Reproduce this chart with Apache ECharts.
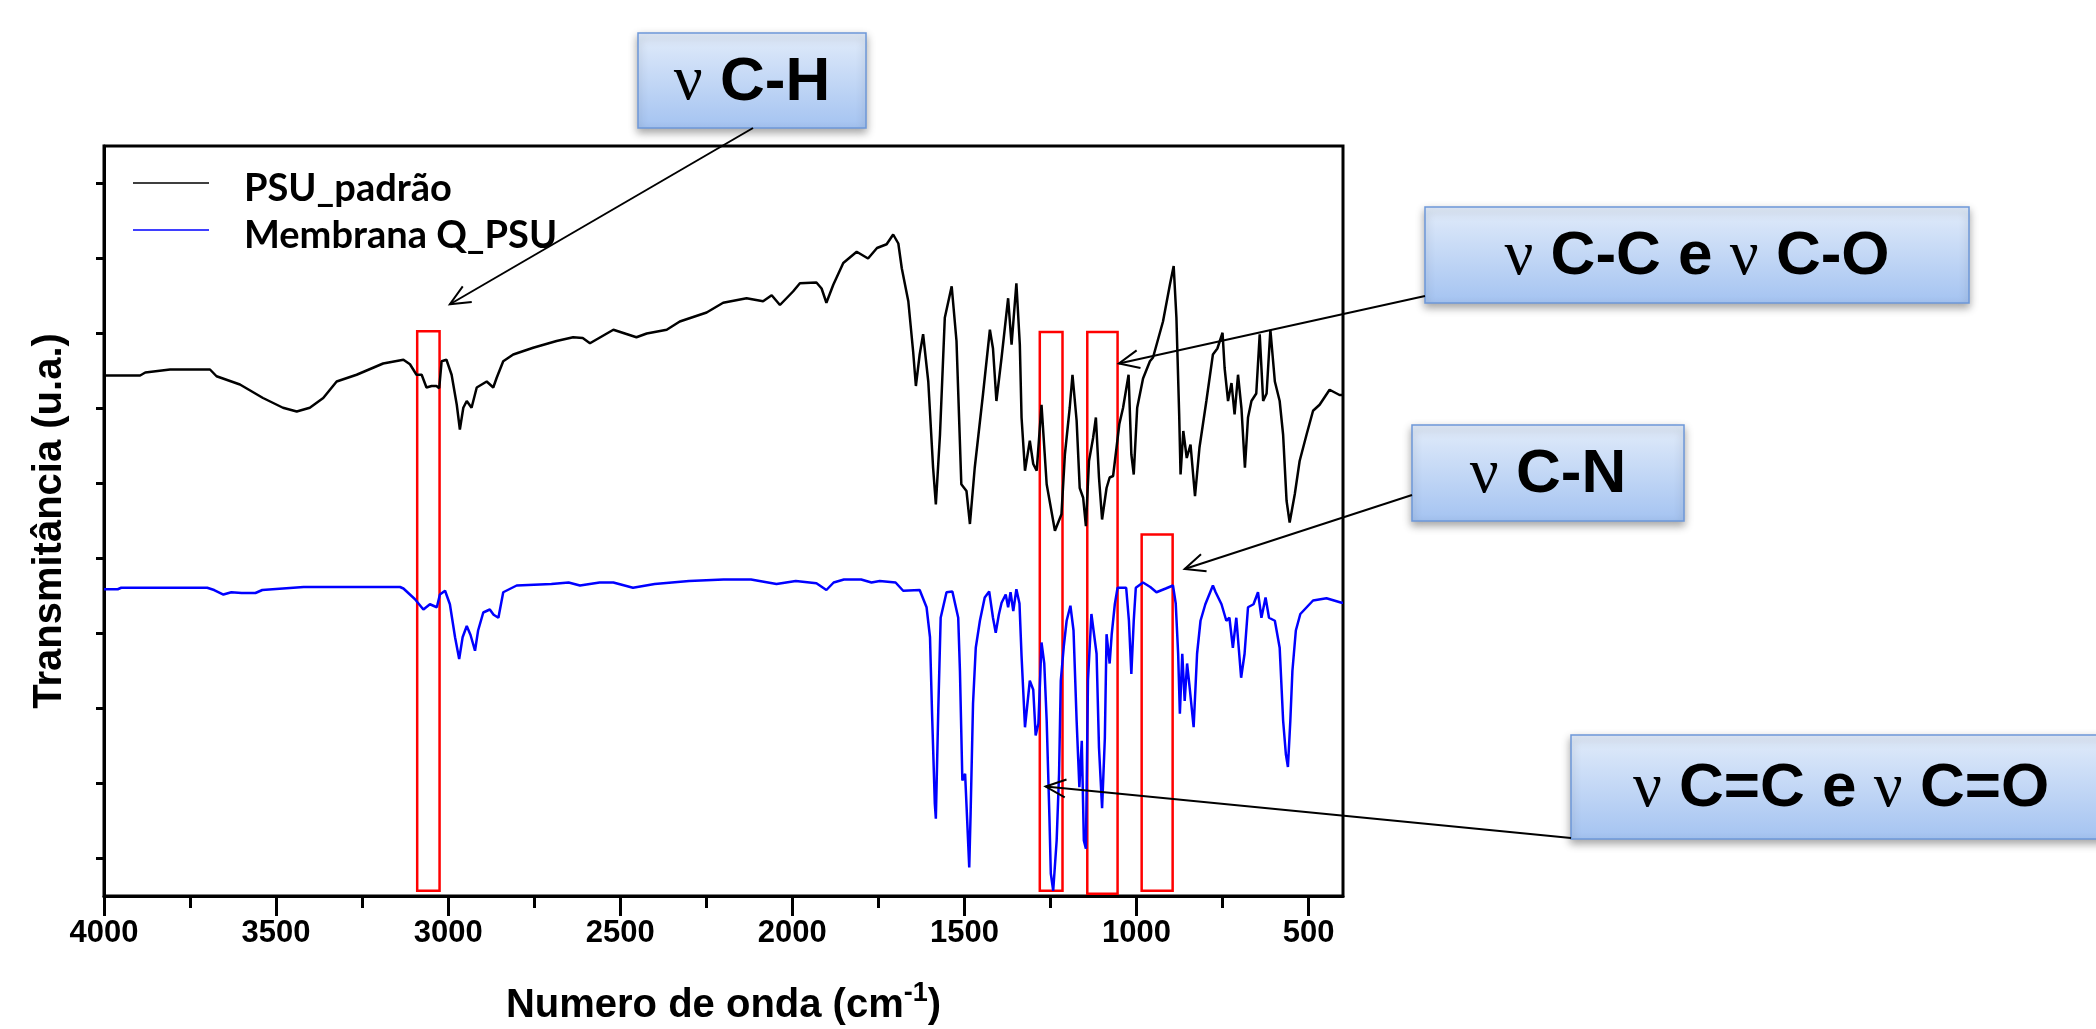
<!DOCTYPE html>
<html><head><meta charset="utf-8">
<script src="https://cdn.jsdelivr.net/npm/echarts@6/dist/echarts.min.js"></script>
<style>html,body{margin:0;padding:0;background:#fff}#c{width:2096px;height:1029px}</style>
</head><body><div id="c"></div>
<script>
// ---- data ----
const seriesNames = ['PSU_padrão', 'Membrana Q_PSU'];
const wnBlack = [4000,3895,3880,3808,3692,3673,3605,3538,3480,3440,3402,3363,3324,3266,3189,3130,3111,3092,3077,3063,3048,3034,3026,3019,3005,2990,2975,2966,2956,2946,2932,2917,2888,2869,2859,2840,2811,2753,2685,2637,2609,2588,2520,2453,2423,2365,2327,2249,2201,2133,2085,2060,2036,1998,1978,1930,1915,1901,1881,1852,1813,1780,1754,1726,1707,1692,1682,1663,1649,1641,1630,1620,1605,1591,1583,1571,1557,1537,1523,1509,1494,1484,1470,1446,1426,1417,1407,1392,1373,1363,1349,1339,1334,1324,1310,1300,1290,1276,1261,1237,1218,1208,1194,1186,1174,1165,1155,1147,1138,1126,1118,1109,1100,1087,1078,1068,1058,1050,1039,1023,1015,1008,998,981,961,952,923,903,892,884,876,872,864,854,843,830,817,797,778,765,750,744,734,724,715,705,695,685,676,666,652,642,632,622,611,598,584,574,564,555,540,526,506,487,468,439,410,400];
const tBlack = [6.44,6.44,6.48,6.52,6.52,6.43,6.32,6.14,6.01,5.96,6.01,6.14,6.36,6.45,6.60,6.65,6.59,6.45,6.45,6.28,6.30,6.30,6.27,6.63,6.65,6.45,6.05,5.72,6.01,6.10,6.01,6.28,6.36,6.28,6.41,6.63,6.72,6.81,6.90,6.95,6.94,6.87,7.05,6.95,7.00,7.05,7.16,7.28,7.41,7.47,7.43,7.51,7.38,7.56,7.67,7.68,7.60,7.41,7.65,7.94,8.09,8.00,8.14,8.19,8.32,8.20,7.87,7.43,6.76,6.30,6.72,6.99,6.36,5.21,4.72,5.65,7.21,7.63,6.90,4.99,4.90,4.46,5.21,6.19,7.05,6.80,6.10,6.68,7.47,6.85,7.67,6.85,5.88,5.17,5.57,5.26,5.17,6.05,4.99,4.37,4.59,5.39,6.01,6.45,5.84,4.94,4.81,4.43,5.30,5.61,5.88,5.08,4.52,4.94,5.08,5.10,5.48,5.79,6.01,6.45,5.39,5.12,6.01,6.40,6.63,6.68,7.16,7.65,7.90,7.21,5.92,5.12,5.70,5.34,5.52,4.83,5.48,6.10,6.72,6.80,7.01,6.54,6.10,6.34,5.92,6.45,6.00,5.21,5.88,6.10,6.20,6.99,6.10,6.20,7.05,6.36,6.10,5.65,4.77,4.48,4.86,5.30,5.65,5.97,6.05,6.25,6.18,6.18];
const wnBlue = [4000,3960,3950,3700,3680,3653,3630,3600,3560,3540,3480,3420,3140,3130,3097,3072,3053,3033,3024,3009,2995,2980,2968,2958,2946,2935,2922,2913,2898,2879,2868,2854,2840,2801,2700,2650,2617,2560,2520,2463,2400,2300,2200,2120,2046,1990,1930,1901,1880,1850,1800,1770,1746,1700,1678,1630,1610,1600,1594,1586,1583,1576,1569,1552,1535,1518,1513,1506,1498,1492,1486,1482,1475,1467,1455,1441,1428,1417,1409,1400,1392,1380,1373,1366,1358,1349,1340,1334,1324,1320,1310,1300,1293,1285,1276,1268,1261,1253,1249,1242,1232,1225,1220,1211,1203,1192,1183,1174,1166,1159,1153,1147,1141,1131,1126,1116,1109,1100,1098,1092,1087,1078,1072,1063,1055,1030,1022,1015,1008,1002,981,960,942,915,894,886,879,874,867,860,853,846,834,824,814,800,778,770,753,739,730,720,710,703,696,686,676,660,647,637,625,615,598,584,574,566,560,553,547,537,524,487,448,404,400];
const tBlue = [3.59,3.59,3.61,3.61,3.58,3.52,3.55,3.54,3.54,3.58,3.60,3.62,3.62,3.60,3.46,3.32,3.39,3.35,3.52,3.57,3.39,2.95,2.66,2.95,3.10,2.98,2.77,3.04,3.28,3.32,3.25,3.21,3.55,3.64,3.66,3.68,3.64,3.68,3.68,3.61,3.66,3.70,3.72,3.72,3.66,3.70,3.67,3.58,3.68,3.72,3.72,3.68,3.70,3.68,3.57,3.58,3.35,2.95,1.93,0.73,0.53,1.97,3.21,3.55,3.56,3.21,2.50,1.04,1.13,0.51,-0.12,0.60,2.06,2.81,3.17,3.48,3.56,3.21,3.01,3.25,3.41,3.52,3.35,3.55,3.30,3.59,3.40,2.70,1.75,1.75,2.37,2.25,1.64,1.80,2.88,2.60,1.84,0.55,-0.20,-0.43,0.24,1.13,2.37,2.84,3.17,3.37,3.04,1.84,0.95,1.57,0.24,0.13,2.37,3.26,3.24,2.73,1.48,0.67,0.68,1.60,2.99,2.60,2.99,3.39,3.61,3.61,3.17,2.46,3.17,3.61,3.68,3.62,3.55,3.60,3.64,3.40,2.73,1.93,2.73,2.10,2.60,2.30,1.75,2.73,3.17,3.39,3.64,3.55,3.39,3.17,3.21,2.81,3.21,2.81,2.41,2.73,3.35,3.39,3.55,3.21,3.48,3.21,3.17,2.81,1.84,1.39,1.22,1.84,2.50,3.04,3.26,3.44,3.47,3.41,3.41];
const xTickLabels = [4000,3500,3000,2500,2000,1500,1000,500];
const xMinorTicks = [3750,3250,2750,2250,1750,1250,750];
const yTicks = [0,1,2,3,4,5,6,7,8,9];
// highlighted bands: [wavenumber from, wavenumber to, y bottom, y top]
const bandFrom = [3090,1281,1143,985];
const bandTo   = [3025,1215,1055,895];
const bandLow  = [-0.43,-0.43,-0.47,-0.43];
const bandHigh = [7.03,7.02,7.02,4.32];
// annotation labels and the points the arrows point at (data coords)
const annLabels = [['C-H'],['C-C e ','C-O'],['C-N'],['C=C e ','C=O']];
const annTipX = [2995,1051,860,1264];
const annTipY = [7.39,6.60,3.86,0.96];

// ---- layout (pixels) ----
const boxes = [
  {x:638, y:33, w:228, h:95, tail:[753,128]},
  {x:1425, y:207, w:544, h:96, tail:[1425,296]},
  {x:1412, y:425, w:272, h:96, tail:[1412,495]},
  {x:1571, y:735, w:540, h:104, tail:[1571,838]}
];
const SANS = "'Liberation Sans',Arial,sans-serif";

const chart = echarts.init(document.getElementById('c'), null, {renderer:'canvas'});
const pairs = (xs, ys) => xs.map((x,i) => [x, ys[i]]);
const areas = bandFrom.map((f,i) => [{coord:[f, bandLow[i]]},{coord:[bandTo[i], bandHigh[i]]}]);

const option = {
  animation: false,
  backgroundColor: '#fff',
  grid: {left:104, right:753, top:146, bottom:133, show:true, borderColor:'#000', borderWidth:3, containLabel:false, outerBoundsMode:'none'},
  legend: {
    orient:'vertical', left:128, top:165, itemWidth:76, itemHeight:18, itemGap:9,
    icon:'path://M0,0 H100 V2 H0 Z M0,18 L0,18.01 L0.01,18 Z',
    data: seriesNames,
    textStyle:{fontFamily:'Lato', fontWeight:'bold', fontSize:38, color:'#000', padding:[0,0,0,30]}
  },
  xAxis: [{
    type:'value', min:400, max:4000, inverse:true, position:'bottom',
    axisLine:{show:true, onZero:false, lineStyle:{color:'#000', width:3}},
    axisTick:{show:true, customValues:xTickLabels, length:20, lineStyle:{color:'#000', width:3}},
    axisLabel:{show:true, customValues:xTickLabels, margin:22, formatter:v => String(v), fontFamily:SANS, fontWeight:'bold', fontSize:31, color:'#000'},
    splitLine:{show:false},
    name:'{t|Numero de onda (cm}{s|-1}{t|)}', nameLocation:'middle', nameGap:84,
    nameTextStyle:{rich:{t:{fontFamily:SANS, fontWeight:'bold', fontSize:40, color:'#000'}, s:{fontFamily:SANS, fontWeight:'bold', fontSize:27, color:'#000', padding:[0,0,24,0]}}}
  },{
    type:'value', min:400, max:4000, inverse:true, position:'bottom',
    axisLine:{show:false, onZero:false},
    axisTick:{show:true, customValues:xMinorTicks, length:12, lineStyle:{color:'#000', width:3}},
    axisLabel:{show:false}, splitLine:{show:false}
  }],
  yAxis: {
    type:'value', min:-0.5, max:9.5,
    axisLine:{show:true, onZero:false, lineStyle:{color:'#000', width:3}},
    axisTick:{show:true, customValues:yTicks, length:8, lineStyle:{color:'#000', width:3}},
    axisLabel:{show:false}, splitLine:{show:false},
    name:'Transmitância (u.a.)', nameLocation:'middle', nameGap:34, nameRotate:90,
    nameTextStyle:{fontFamily:SANS, fontWeight:'bold', fontSize:40, color:'#000'}
  },
  series: [
    {name:seriesNames[0], type:'line', symbol:'none', showSymbol:false, data:pairs(wnBlack,tBlack),
     lineStyle:{color:'#000', width:2.5}, itemStyle:{color:'#000'}, z:2},
    {name:seriesNames[1], type:'line', symbol:'none', showSymbol:false, data:pairs(wnBlue,tBlue),
     lineStyle:{color:'#0000ff', width:2.5}, itemStyle:{color:'#0000ff'}, z:3,
     markArea:{silent:true, itemStyle:{color:'rgba(0,0,0,0)', borderColor:'#ff0000', borderWidth:2.5}, data:areas}}
  ]
};
chart.setOption(option);

// annotation boxes + arrows
const g = [];
boxes.forEach((b,i) => {
  g.push({type:'rect', shape:{x:b.x, y:b.y, width:b.w, height:b.h}, z:10,
    style:{fill:new echarts.graphic.LinearGradient(0,0,0,1,[{offset:0,color:'#e2ecfa'},{offset:1,color:'#a4c3f1'}]),
      stroke:'#6d98d9', lineWidth:1.5, shadowBlur:8, shadowOffsetY:4, shadowColor:'rgba(0,0,0,0.35)'}});
  const parts = annLabels[i];
  let rich = '';
  parts.forEach((p,k) => { rich += '{n|ν}{b| ' + p + '}'; });
  g.push({type:'text', x:b.x + b.w/2, y:b.y + b.h/2 + 2, z:11,
    style:{text:rich, align:'center', verticalAlign:'middle',
      rich:{n:{fontFamily:"'Liberation Serif','DejaVu Serif',serif", fontSize:64, fill:'#000'},
            b:{fontFamily:SANS, fontWeight:'bold', fontSize:62, fill:'#000'}}}});
  const tip = chart.convertToPixel({seriesIndex:0}, [annTipX[i], annTipY[i]]);
  const tail = b.tail;
  g.push({type:'line', z:12, shape:{x1:tail[0], y1:tail[1], x2:tip[0], y2:tip[1]}, style:{stroke:'#000', lineWidth:2}});
  const ang = Math.atan2(tail[1]-tip[1], tail[0]-tip[0]);
  const L = 22, a = 0.42;
  g.push({type:'polyline', z:12, shape:{points:[
    [tip[0]+L*Math.cos(ang+a), tip[1]+L*Math.sin(ang+a)], tip,
    [tip[0]+L*Math.cos(ang-a), tip[1]+L*Math.sin(ang-a)]]}, style:{stroke:'#000', lineWidth:2, fill:null}});
});
chart.setOption({graphic: g});
</script></body></html>
